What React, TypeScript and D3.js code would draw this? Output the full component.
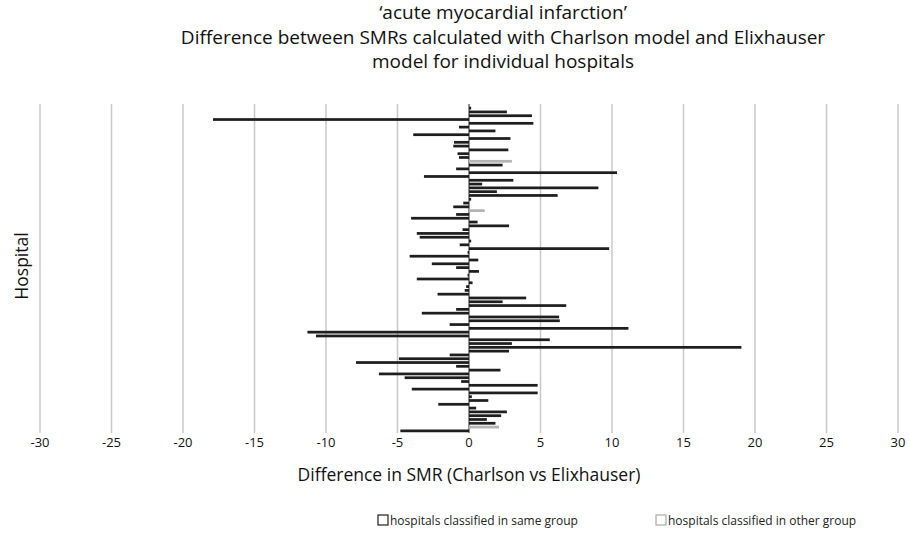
import React from "react";
import * as d3 from "d3";

const titleLines = [
  "\u2018acute myocardial infarction\u2019",
  "Difference between SMRs calculated with Charlson model and Elixhauser",
  "model for individual hospitals",
];

const smrDifference = [
  0.15, 2.65, 4.4, -17.9, 4.5, -0.7, 1.85, -3.9, 2.9, -1.05,
  -1.1, 2.75, -0.8, -0.7, 3.0, 2.35, -0.9, 10.35, -3.15, 3.1,
  0.92, 9.05, 1.95, 6.2, 0.15, -0.4, -1.1, 1.1, -0.9, -4.05,
  0.6, 2.8, -0.45, -3.65, -3.45, 0.15, -0.65, 9.8, -0.1, -4.15,
  0.65, -2.6, -0.9, 0.7, -0.1, -3.65, 0.25, -0.2, -0.3, -2.2,
  4.0, 2.35, 6.8, -0.9, -3.3, 6.3, 6.35, -1.35, 11.15, -11.3,
  -10.7, 5.65, 3.0, 19.05, 2.8, -1.35, -4.9, -7.9, -0.9, 2.2,
  -6.3, -4.5, -0.55, 4.8, -4.0, 4.8, 0.2, 1.35, -2.15, 0.5,
  2.65, 2.25, 1.25, 1.85, 2.1, -4.8,
];

const otherGroupHospitals = [15, 28, 85];

const xTicks = [-30, -25, -20, -15, -10, -5, 0, 5, 10, 15, 20, 25, 30];

const legendLabels = [
  "hospitals classified in same group",
  "hospitals classified in other group",
];

const hospitals = smrDifference.map((_, i) => i + 1);

export default function App() {
  const W = 909;
  const H = 550;
  const font = "'Open Sans', Roboto, sans-serif";
  const x = d3.scaleLinear().domain([-30, 30]).range([40, 898]);
  const y = d3
    .scaleBand<number>()
    .domain(hospitals)
    .range([106, 433])
    .paddingInner(0.28)
    .paddingOuter(0.2);
  const plotTop = 104;
  const plotBottom = 433;
  const sameColor = "#1e1e1e";
  const otherColor = "#b4b4b4";

  return (
    <svg
      width={W}
      height={H}
      style={{ position: "absolute", left: 0, top: 0, background: "#fff" }}
    >
      {titleLines.map((t, i) => (
        <text
          key={i}
          x={503}
          y={19 + i * 24.5}
          textAnchor="middle"
          fontFamily={font}
          fontSize={19}
          fill="#111"
        >
          {t}
        </text>
      ))}
      {xTicks.map((t) => (
        <line
          key={"g" + t}
          x1={x(t)}
          x2={x(t)}
          y1={plotTop}
          y2={plotBottom}
          stroke={t === 0 ? "#222" : "#c8c8c8"}
          strokeWidth={t === 0 ? 1 : 1.5}
        />
      ))}
      {smrDifference.map((v, i) => {
        const h = hospitals[i];
        const isOther = otherGroupHospitals.includes(h);
        const x0 = x(Math.min(0, v));
        const x1 = x(Math.max(0, v));
        return (
          <rect
            key={h}
            x={x0}
            y={y(h)}
            width={Math.max(1, x1 - x0)}
            height={y.bandwidth()}
            fill={isOther ? otherColor : sameColor}
          />
        );
      })}
      {xTicks.map((t) => (
        <text
          key={"t" + t}
          x={x(t)}
          y={447}
          textAnchor="middle"
          fontFamily={font}
          fontSize={13}
          fill="#111"
        >
          {t}
        </text>
      ))}
      <text
        x={469}
        y={481}
        textAnchor="middle"
        fontFamily={font}
        fontSize={17.5}
        fill="#111"
      >
        Difference in SMR (Charlson vs Elixhauser)
      </text>
      <text
        transform="translate(28,266) rotate(-90)"
        textAnchor="middle"
        fontFamily={font}
        fontSize={17.5}
        fill="#111"
      >
        Hospital
      </text>
      <rect x={378} y={515} width={10} height={10} fill="#fff" stroke="#222" strokeWidth={1.2} />
      <text x={390} y={525} fontFamily={font} fontSize={12} fill="#222">
        {legendLabels[0]}
      </text>
      <rect x={656} y={515} width={10} height={10} fill="#fff" stroke="#aaa" strokeWidth={1.2} />
      <text x={668} y={525} fontFamily={font} fontSize={12} fill="#222">
        {legendLabels[1]}
      </text>
    </svg>
  );
}
